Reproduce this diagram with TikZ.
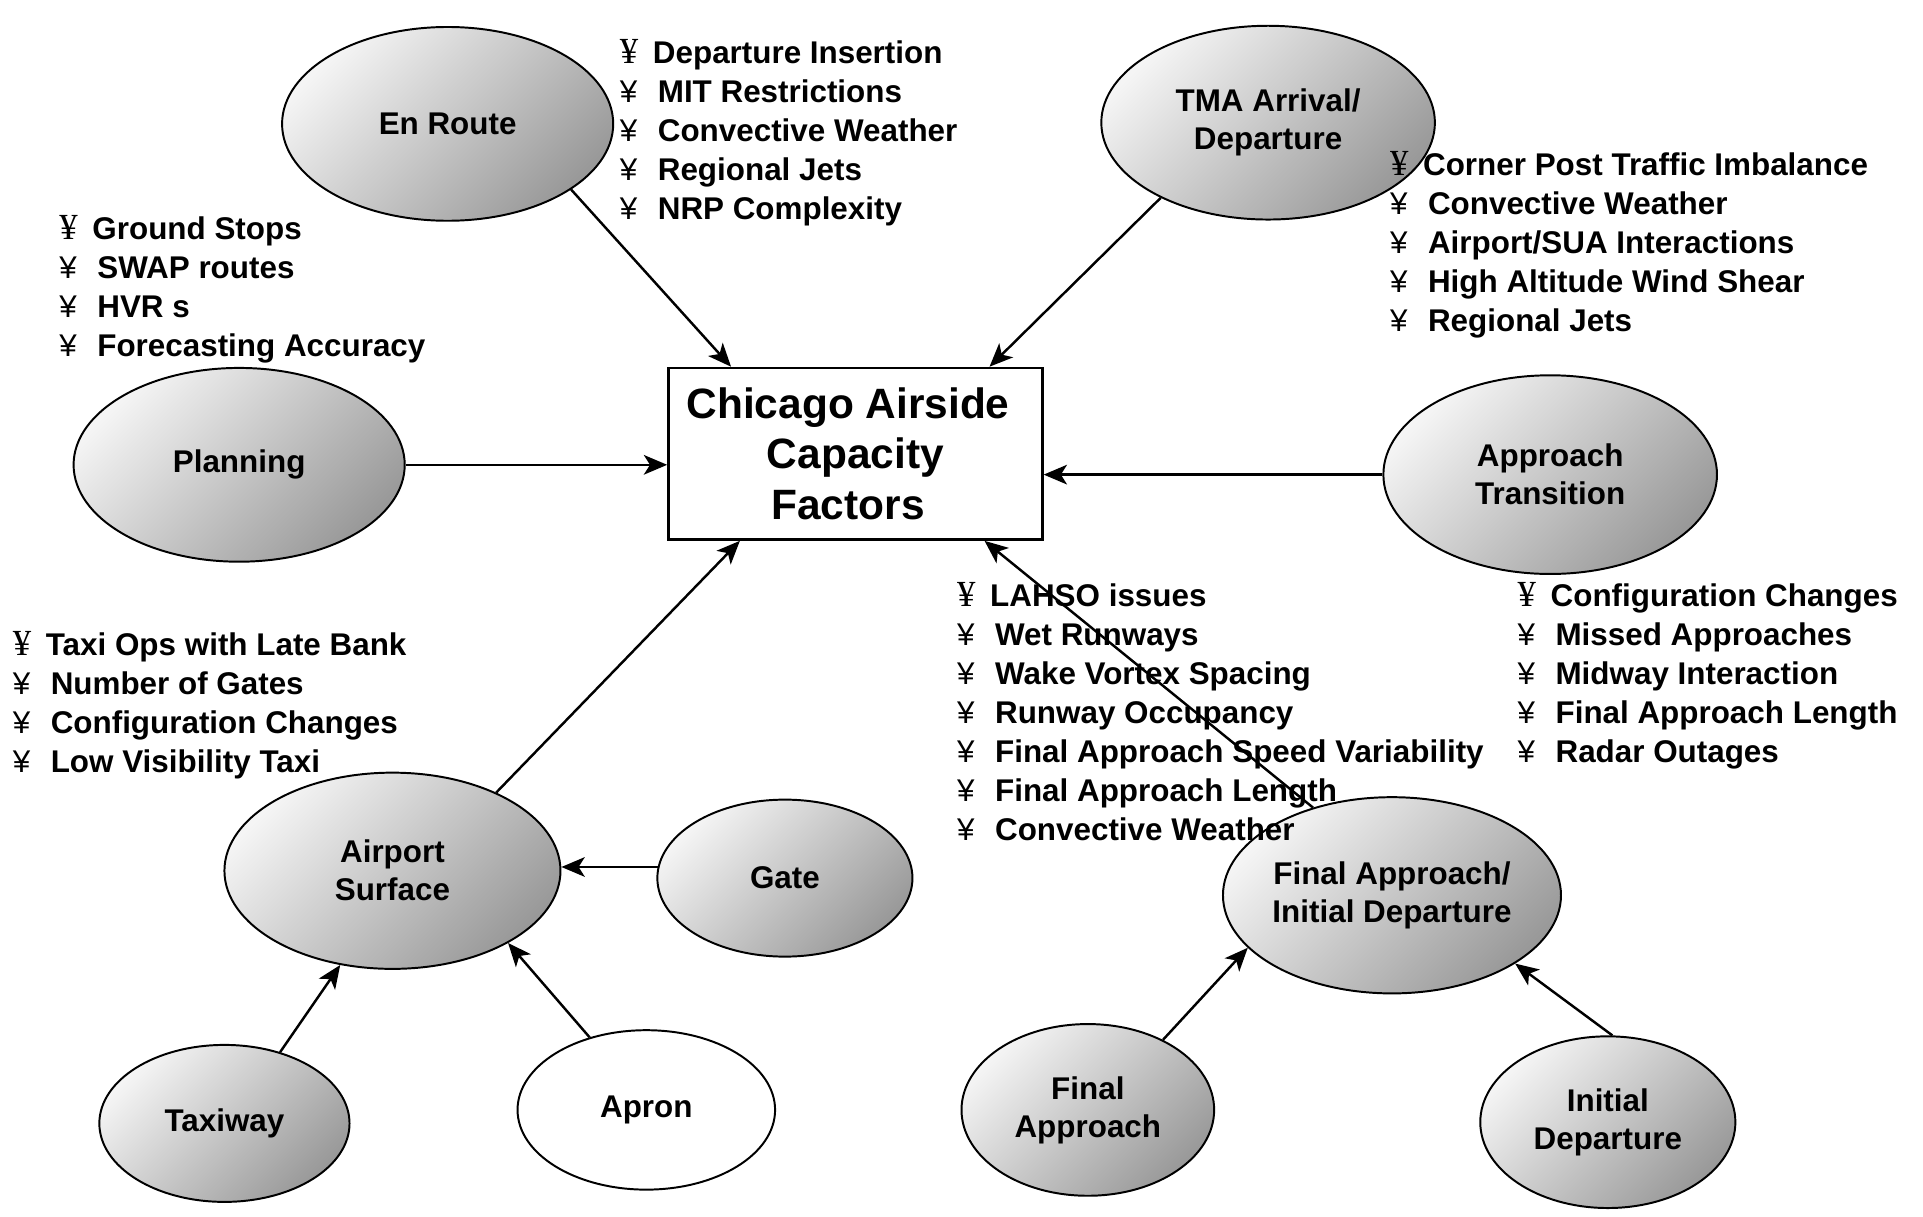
\documentclass[tikz,border=0pt]{standalone}
\usepackage{fontspec}
\setmainfont{Liberation Sans}
\newfontfamily\serifyen{Liberation Serif}
\usetikzlibrary{shapes.geometric,arrows.meta,calc}
\newcommand{\yA}{\makebox[13.5pt][l]{\serifyen\mdseries\fontsize{15}{15.9}\selectfont ¥}}
\newcommand{\yB}{\makebox[15.5pt][l]{\mdseries ¥}}
\begin{document}
\begin{tikzpicture}[x=0.5pt,y=-0.5pt,
  every node/.style={font=\bfseries\fontsize{12.8}{15.5}\selectfont},
  bub/.style={ellipse, draw=black, line width=0.8pt, inner sep=0pt, align=center,
     top color=white!96!black, bottom color=black!40, shading angle=45},
  plainbub/.style={ellipse, draw=black, line width=0.8pt, inner sep=0pt, align=center, fill=white},
  lst/.style={anchor=base west, align=left, inner sep=0pt, font=\bfseries\fontsize{12.8}{15.9}\selectfont},
  arr/.style={line width=1pt, -{Stealth[length=9.5pt,width=8pt,inset=2.5pt]}},
]
\useasboundingbox (0,0) rectangle (1568,992);

% central box
\node[draw=black, line width=1pt, minimum width=152.5pt, minimum height=70pt, inner sep=0pt,
      align=center, font=\bfseries\fontsize{17.3}{20.75}\selectfont] (box) at (697.5,370)
      {Chicago Airside\hspace*{6pt}\\Capacity\hspace*{6pt}\\Factors\hspace*{6pt}};

% ellipses
\node[bub, minimum width=135pt, minimum height=79pt] (enroute) at (365,101) {En Route};
\node[bub, minimum width=136pt, minimum height=79pt] (tma) at (1034,100) {TMA Arrival/\\Departure};
\node[bub, minimum width=135pt, minimum height=79pt] (planning) at (195,379) {Planning};
\node[bub, minimum width=136pt, minimum height=81pt] (appr) at (1264,387) {Approach\\Transition};
\node[bub, minimum width=137pt, minimum height=80pt] (as) at (320,710) {Airport\\Surface};
\node[bub, minimum width=104pt, minimum height=64pt] (gate) at (640,716) {Gate};
\node[bub, minimum width=102pt, minimum height=64pt] (taxiway) at (183,916) {Taxiway};
\node[plainbub, minimum width=105pt, minimum height=65pt] (apron) at (527,905) {Apron};
\node[bub, minimum width=137pt, minimum height=80pt] (faid) at (1135,730) {Final Approach/\\Initial Departure};
\node[bub, minimum width=103pt, minimum height=70pt] (fa) at (887,905) {Final\\Approach};
\node[bub, minimum width=104pt, minimum height=70pt] (id) at (1311,915) {Initial\\Departure};

% lists (anchor = baseline of last line)
\node[lst] (lenroute) at (505,179) {\yA Departure Insertion\\\yB MIT Restrictions\\\yB Convective Weather\\\yB Regional Jets\\\yB NRP Complexity};
\node[lst] (lplanning) at (48,291) {\yA Ground Stops\\\yB SWAP routes\\\yB HVR s\\\yB Forecasting Accuracy};
\node[lst] (ltma) at (1133,270) {\yA Corner Post Traffic Imbalance\\\yB Convective Weather\\\yB Airport/SUA Interactions\\\yB High Altitude Wind Shear\\\yB Regional Jets};
\node[lst] (llahso) at (780,685) {\yA LAHSO issues\\\yB Wet Runways\\\yB Wake Vortex Spacing\\\yB Runway Occupancy\\\yB Final Approach Speed Variability\\\yB Final Approach Length\\\yB Convective Weather};
\node[lst] (lappr) at (1237,622) {\yA Configuration Changes\\\yB Missed Approaches\\\yB Midway Interaction\\\yB Final Approach Length\\\yB Radar Outages};
\node[lst] (lairport) at (10,630) {\yA Taxi Ops with Late Bank\\\yB Number of Gates\\\yB Configuration Changes\\\yB Low Visibility Taxi};

% arrows
\draw[arr] (enroute.-28) -- (box.145);
\draw[arr] (tma.215) -- (box.33);
\draw[arr] (planning.east) -- (planning.east -| box.west);
\draw[arr] (appr.west) -- (appr.west -| box.east);
\draw[arr] (as.37) -- (box.217);
\draw[arr] (faid.132) -- (box.326);
\draw[arr] (gate.175) -- (gate.175 -| as.east);
\draw[arr] (taxiway.52) -- (as.241);
\draw[arr] (apron.128) -- (as.-32);
\draw[arr] (fa.43) -- (faid.200);
\draw[arr] (id.87) -- (faid.-29);
\end{tikzpicture}
\end{document}
